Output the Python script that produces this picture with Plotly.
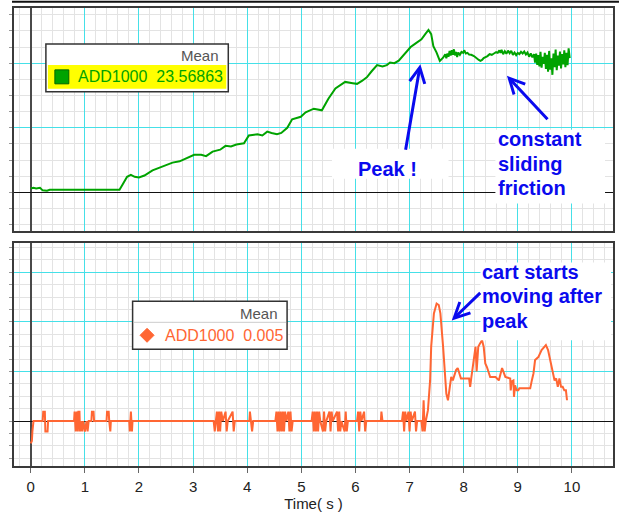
import plotly.graph_objects as go

# ---------------- data ----------------
force_time = [0.00, 0.05, 0.10, 0.17, 0.22, 0.30, 0.35, 0.50, 1.00, 1.64, 1.70, 1.78, 1.85, 1.92,
              2.00, 2.10, 2.25, 2.40, 2.50, 2.62, 2.75, 2.87, 3.02, 3.15, 3.24, 3.36, 3.50, 3.60,
              3.70, 3.80, 3.94, 4.03, 4.12, 4.19, 4.28, 4.37, 4.45, 4.55, 4.63, 4.74, 4.83, 4.99,
              5.08, 5.23, 5.38, 5.50, 5.63, 5.81, 5.95, 6.03, 6.12, 6.21, 6.30, 6.40, 6.50, 6.58,
              6.64, 6.72, 6.80, 6.92, 7.02, 7.10, 7.17, 7.22, 7.29, 7.35, 7.40, 7.44, 7.50, 7.56,
              7.62, 7.66, 7.68, 7.70, 7.72, 7.74, 7.76, 7.78, 7.80, 7.82, 7.84, 7.86, 7.88, 7.90,
              7.93, 7.96, 7.99, 8.01, 8.04, 8.07, 8.10, 8.14, 8.19, 8.24, 8.28, 8.31, 8.34, 8.37,
              8.40, 8.44, 8.48, 8.52, 8.56, 8.60, 8.63, 8.66, 8.68, 8.70, 8.73, 8.76, 8.79, 8.82,
              8.85, 8.88, 8.91, 8.94, 8.97, 9.00, 9.03, 9.06, 9.09, 9.12, 9.15, 9.18, 9.21, 9.24,
              9.27, 9.30, 9.32, 9.34, 9.36, 9.38, 9.40, 9.42, 9.44, 9.46, 9.48, 9.50, 9.52, 9.54,
              9.56, 9.58, 9.60, 9.62, 9.64, 9.66, 9.68, 9.70, 9.72, 9.74, 9.76, 9.78, 9.80, 9.82,
              9.84, 9.86, 9.88, 9.90, 9.92, 9.94, 9.96]
force_values = [1.2, 1.4, 1.2, 1.4, 0.6, 0.5, 0.8, 0.8, 0.8, 0.8, 2.5, 4.8, 5.4, 4.8,
                4.6, 5.2, 6.8, 7.8, 8.6, 9.2, 9.6, 10.4, 11.6, 11.6, 11.2, 12.6, 13.2, 14.4,
                14.2, 14.8, 15.2, 17.6, 17.8, 18.0, 17.6, 18.8, 18.4, 18.0, 18.4, 20.0, 22.6, 23.4,
                24.8, 25.9, 25.4, 29.0, 32.2, 34.2, 33.8, 33.6, 34.5, 35.6, 37.5, 39.4, 39.0, 39.4,
                40.2, 40.0, 40.8, 43.2, 45.0, 46.0, 46.9, 47.4, 49.0, 50.3, 49.0, 45.3, 43.3, 40.7,
                41.7, 42.8, 41.5, 43.0, 42.0, 43.8, 42.4, 44.0, 42.6, 44.3, 42.4, 43.5, 41.9, 43.3,
                42.6, 43.5, 43.2, 44.0, 43.0, 43.2, 42.7, 42.6, 42.2, 41.4, 41.0, 40.7, 41.0, 41.6,
                41.8, 42.2, 42.8, 42.6, 43.0, 43.4, 43.2, 44.0, 43.2, 44.1, 42.8, 43.7, 42.9, 43.9,
                43.1, 43.8, 42.6, 43.3, 42.5, 43.2, 42.8, 43.5, 43.0, 43.6, 42.7, 43.3, 42.0, 43.0,
                41.8, 42.8, 40.2, 43.0, 39.5, 42.5, 39.0, 43.5, 38.6, 42.0, 39.8, 43.2, 38.2, 42.6,
                37.4, 43.8, 38.0, 41.5, 36.4, 43.0, 38.8, 44.2, 37.8, 42.4, 39.2, 43.6, 38.4, 42.8,
                39.6, 44.0, 38.8, 43.2, 39.4, 44.6, 41.6]

velocity_time = [0.00, 0.02, 0.03, 0.05, 0.22, 0.23, 0.26, 0.27, 0.31, 0.32,
                 0.80, 0.81, 0.83, 0.85, 0.87, 0.88, 0.90, 0.91, 0.93, 0.95, 0.97, 1.00, 1.03, 1.05, 1.07,
                 1.12, 1.13, 1.16, 1.17, 1.40, 1.41, 1.44, 1.45, 1.47, 1.48, 1.82, 1.83, 1.85, 1.87, 1.88,
                 3.38, 3.40, 3.42, 3.44, 3.46, 3.48, 3.50, 3.52, 3.55, 3.60, 3.62, 3.64, 3.73, 3.75, 3.77,
                 4.04, 4.05, 4.07, 4.09, 4.11, 4.52, 4.54, 4.56, 4.58, 4.60, 4.62, 4.64, 4.66, 4.68, 4.70,
                 4.72, 4.76, 4.78, 4.80, 4.82, 4.84, 5.19, 5.21, 5.23, 5.25, 5.27, 5.29, 5.31, 5.33, 5.35,
                 5.40, 5.42, 5.44, 5.46, 5.52, 5.54, 5.56, 5.58, 5.66, 5.68, 5.70, 5.72, 5.74, 5.80, 5.82,
                 5.84, 5.86, 6.03, 6.05, 6.07, 6.09, 6.11, 6.16, 6.18, 6.20, 6.47, 6.48, 6.50, 6.86, 6.88,
                 6.90, 6.92, 6.94, 6.98, 7.00, 7.02, 7.04, 7.10, 7.12, 7.14, 7.22, 7.24, 7.26, 7.28, 7.30,
                 7.34, 7.38, 7.40, 7.45, 7.50, 7.54, 7.57, 7.62, 7.65, 7.68, 7.71, 7.74, 7.77, 7.80, 7.86,
                 7.89, 7.92, 7.95, 8.10, 8.12, 8.14, 8.19, 8.22, 8.24, 8.25, 8.27, 8.30, 8.34, 8.37, 8.40,
                 8.43, 8.49, 8.59, 8.65, 8.71, 8.77, 8.86, 8.87, 8.89, 8.92, 8.93, 8.95, 8.98, 9.01, 9.03,
                 9.23, 9.26, 9.29, 9.32, 9.38, 9.44, 9.52, 9.56, 9.62, 9.68, 9.71, 9.74, 9.77, 9.80, 9.83,
                 9.86, 9.89, 9.91]
velocity_values = [-0.0045, -0.0040, -0.0021, 0.0, 0.0, 0.0019, 0.0019, -0.0021, -0.0021, 0.0,
                   0.0, 0.0019, -0.0021, 0.0019, -0.0021, 0.0019, 0.0019, -0.0021, 0.0, -0.0021, 0.0, -0.0021, 0.0, -0.0021, 0.0,
                   0.0, 0.0019, 0.0019, 0.0, 0.0, 0.0019, 0.0019, 0.0, -0.0021, 0.0, 0.0, -0.0021, 0.0019, -0.0021, 0.0,
                   0.0, -0.0021, 0.0, 0.0019, -0.0021, 0.0019, -0.0021, 0.0019, 0.0, 0.0019, -0.0021, 0.0, 0.0019, -0.0021, 0.0,
                   0.0, 0.0019, 0.0, -0.0021, 0.0, 0.0, 0.0019, -0.0021, 0.0019, -0.0021, 0.0019, -0.0021, 0.0019, -0.0021, 0.0019,
                   0.0, 0.0019, -0.0021, 0.0019, -0.0021, 0.0, 0.0, 0.0019, -0.0021, 0.0019, -0.0021, 0.0019, -0.0021, 0.0019, 0.0,
                   -0.0021, 0.0019, -0.0021, 0.0, 0.0019, -0.0021, 0.0019, 0.0, 0.0019, -0.0021, 0.0019, -0.0021, 0.0, -0.0021, 0.0019,
                   -0.0021, 0.0, 0.0, 0.0019, -0.0021, 0.0019, 0.0, 0.0019, -0.0021, 0.0, 0.0, 0.0019, 0.0, 0.0, 0.0019,
                   -0.0021, 0.0019, 0.0, 0.0019, -0.0021, 0.0019, 0.0, 0.0019, -0.0021, 0.0, 0.0, -0.0021, 0.0042, -0.0021, 0.0,
                   0.0022, 0.0082, 0.0150, 0.0217, 0.0237, 0.0234, 0.0217, 0.0150, 0.0103, 0.0055, 0.0042, 0.0062, 0.0089, 0.0082, 0.0103,
                   0.0107, 0.0096, 0.0086, 0.0086, 0.0069, 0.0086, 0.0129, 0.0150, 0.0100, 0.0129, 0.0150, 0.0156, 0.0163, 0.0150, 0.0116,
                   0.0109, 0.0089, 0.0089, 0.0082, 0.0107, 0.0089, 0.0086, 0.0062, 0.0080, 0.0082, 0.0049, 0.0072, 0.0062, 0.0062, 0.0066,
                   0.0066, 0.0082, 0.0096, 0.0123, 0.0129, 0.0143, 0.0153, 0.0143, 0.0109, 0.0082, 0.0086, 0.0069, 0.0086, 0.0069, 0.0069,
                   0.0062, 0.0062, 0.0042]

time_ticks = [0, 1, 2, 3, 4, 5, 6, 7, 8, 9, 10]
series_name = "ADD1000"
force_mean_text = "23.56863"
velocity_mean_text = "0.005"
x_title = "Time( s )"

# ---------------- layout helpers ----------------
W, H = 621, 516
ML, MR, MT, MB = 14, 6, 7, 50
PW, PH = W - ML - MR, H - MT - MB


def fx(px):
    return (px - ML) / PW


def fy(py):
    return (H - MB - py) / PH


GREEN = "#00a300"
ORANGE = "#ff6633"
BLUE = "#0a0aee"
CYAN = "#45e0e8"
MINOR = "#e3e3e3"
FONT = "Liberation Sans, Arial, sans-serif"

fig = go.Figure()
fig.add_trace(go.Scatter(x=force_time, y=force_values, mode="lines",
                         line=dict(color=GREEN, width=2), xaxis="x", yaxis="y",
                         showlegend=False, hoverinfo="skip"))
fig.add_trace(go.Scatter(x=velocity_time, y=velocity_values, mode="lines",
                         line=dict(color=ORANGE, width=2), xaxis="x2", yaxis="y2",
                         showlegend=False, hoverinfo="skip"))

xcommon = dict(range=[-0.31, 10.76], dtick=1, tick0=0, showgrid=True, gridcolor=CYAN, gridwidth=1,
               zeroline=True, zerolinecolor="#4a4a4a", zerolinewidth=2,
               showline=True, mirror=True, linecolor="#3a3a3a", linewidth=1.5,
               minor=dict(dtick=0.2, showgrid=True, gridcolor=MINOR, gridwidth=1))

fig.update_layout(
    width=W, height=H, autosize=False,
    margin=dict(l=ML, r=MR, t=MT, b=MB, pad=0),
    paper_bgcolor="white", plot_bgcolor="white",
    font=dict(family=FONT, size=15, color="#222"),
    xaxis=dict(**xcommon, domain=[0, 1], anchor="y", matches="x2", showticklabels=False, ticks=""),
    xaxis2=dict(**xcommon, domain=[0, 1], anchor="y2", tickvals=time_ticks, ticks="outside",
                ticklen=5, tickcolor="#666", ticklabelstandoff=1,
                tickfont=dict(family=FONT, size=15, color="#222"),
                title=dict(text=x_title, standoff=2, font=dict(family=FONT, size=15, color="#222"))),
    yaxis=dict(domain=[fy(230), fy(7)], anchor="x", range=[-11.84, 57.1], dtick=20, tick0=0,
               showgrid=True, gridcolor=CYAN, zeroline=True, zerolinecolor="#111", zerolinewidth=1.3,
               showline=True, mirror=True, linecolor="#3a3a3a", linewidth=1.5,
               showticklabels=False, ticks="outside", ticklen=3, tickcolor="#999",
               minor=dict(dtick=5, showgrid=True, gridcolor=MINOR, ticks="outside", ticklen=3, tickcolor="#999")),
    yaxis2=dict(domain=[0, fy(243)], anchor="x2", range=[-0.00905, 0.0358], dtick=0.01, tick0=0,
                showgrid=True, gridcolor=CYAN, zeroline=True, zerolinecolor="#111", zerolinewidth=1.3,
                showline=True, mirror=True, linecolor="#3a3a3a", linewidth=1.5,
                showticklabels=False, ticks="outside", ticklen=3, tickcolor="#999",
                minor=dict(dtick=0.0025, showgrid=True, gridcolor=MINOR, ticks="outside", ticklen=3, tickcolor="#999")),
)

shapes = []
annotations = []

# top black frame line
shapes.append(dict(type="line", xref="paper", yref="paper", x0=fx(12), x1=fx(621), y0=fy(0.8), y1=fy(0.8),
                   line=dict(color="#111", width=2)))

# white boxes behind callout text
for (x0, y0, x1, y1) in [(333, 148, 450, 178), (497, 129, 607, 203), (482, 262, 613, 340)]:
    shapes.append(dict(type="rect", xref="paper", yref="paper", x0=fx(x0), x1=fx(x1), y0=fy(y1), y1=fy(y0),
                       fillcolor="white", line=dict(width=0), layer="above"))

# top legend box
shapes.append(dict(type="rect", xref="paper", yref="paper", x0=fx(46), x1=fx(229), y0=fy(91), y1=fy(43),
                   fillcolor="white", line=dict(color="#333", width=1.5), layer="above"))
shapes.append(dict(type="rect", xref="paper", yref="paper", x0=fx(48), x1=fx(227), y0=fy(88), y1=fy(64),
                   fillcolor="#ffff00", line=dict(width=0), layer="above"))
shapes.append(dict(type="rect", xref="paper", yref="paper", x0=fx(55), x1=fx(69), y0=fy(83), y1=fy(69),
                   fillcolor=GREEN, line=dict(color="#006600", width=1), layer="above"))
annotations.append(dict(text="Mean", xref="paper", yref="paper", x=fx(222), y=fy(55), xanchor="right",
                        yanchor="middle", showarrow=False, font=dict(family=FONT, size=15, color="#555")))
annotations.append(dict(text=f"{series_name}  {force_mean_text}", xref="paper", yref="paper", x=fx(76),
                        y=fy(76), xanchor="left", yanchor="middle", showarrow=False,
                        font=dict(family=FONT, size=16, color=GREEN)))

# bottom legend box
shapes.append(dict(type="rect", xref="paper", yref="paper", x0=fx(133), x1=fx(288), y0=fy(349), y1=fy(301),
                   fillcolor="white", line=dict(color="#333", width=1.5), layer="above"))
shapes.append(dict(type="line", xref="paper", yref="paper", x0=fx(134), x1=fx(287), y0=fy(322), y1=fy(322),
                   line=dict(color="#cccccc", width=1), layer="above"))
r = 7
shapes.append(dict(type="path", xref="paper", yref="paper", layer="above", fillcolor=ORANGE,
                   line=dict(color=ORANGE, width=1),
                   path=f"M {fx(147.5 - r)} {fy(335)} L {fx(147.5)} {fy(335 - r)} L {fx(147.5 + r)} {fy(335)} L {fx(147.5)} {fy(335 + r)} Z"))
annotations.append(dict(text="Mean", xref="paper", yref="paper", x=fx(281), y=fy(313), xanchor="right",
                        yanchor="middle", showarrow=False, font=dict(family=FONT, size=15, color="#555")))
annotations.append(dict(text=f"{series_name}  {velocity_mean_text}", xref="paper", yref="paper", x=fx(163),
                        y=fy(335), xanchor="left", yanchor="middle", showarrow=False,
                        font=dict(family=FONT, size=16, color=ORANGE)))

# callout texts
bold = dict(family=FONT, size=20, color=BLUE)
callouts = [("<b>Peak !</b>", 389, 168, "center"),
            ("<b>constant</b>", 498, 138, "left"), ("<b>sliding</b>", 498, 163, "left"),
            ("<b>friction</b>", 498, 187, "left"),
            ("<b>cart starts</b>", 482, 272, "left"), ("<b>moving after</b>", 482, 296, "left"),
            ("<b>peak</b>", 482, 321, "left")]
for txt, x, y, anc in callouts:
    annotations.append(dict(text=txt, xref="paper", yref="paper", x=fx(x), y=fy(y), xanchor=anc,
                            yanchor="middle", showarrow=False, font=bold))

# arrows (tip in data coords, tail as pixel offset)
arrows = [("x", "y", 7.20, 39.7, -15, 87),
          ("x", "y", 8.80, 36.1, 42, 45),
          ("x2", "y2", 7.78, 0.0203, 30, -29)]
for xr, yr, x, y, ax, ay in arrows:
    annotations.append(dict(text="", xref=xr, yref=yr, x=x, y=y, ax=ax, ay=ay, showarrow=True,
                            arrowhead=5, arrowsize=1, arrowwidth=3, arrowcolor=BLUE, standoff=0))

fig.update_layout(shapes=shapes, annotations=annotations)

fig.write_html("out.html", config={"displayModeBar": False},
               post_script="document.body.style.margin='0px';document.body.style.overflow='hidden';")
